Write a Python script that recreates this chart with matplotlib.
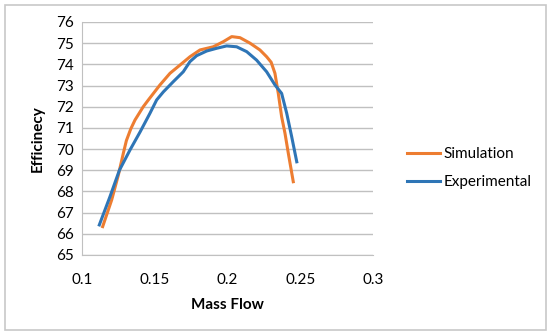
import matplotlib.pyplot as plt
from matplotlib.patches import Rectangle

plt.rcParams['font.family'] = ['Lato', 'DejaVu Sans']

sim_flow = [0.1142, 0.1204, 0.1250, 0.1284, 0.1305, 0.1335, 0.1364, 0.1421, 0.1456, 0.1536,
            0.1605, 0.1674, 0.1742, 0.1811, 0.1902, 0.1971, 0.2029, 0.2086, 0.2155,
            0.2223, 0.2269, 0.2300, 0.2326, 0.2349, 0.2372, 0.2395, 0.2418, 0.2452]
sim_eff = [66.34, 67.6, 68.78, 69.8, 70.4, 70.95, 71.37, 72.0, 72.32, 73.03,
           73.58, 73.97, 74.36, 74.68, 74.83, 75.07, 75.31, 75.26, 75.0,
           74.68, 74.36, 74.1, 73.58, 72.63, 71.53, 70.75, 69.8, 68.46]

exp_flow = [0.1119, 0.1192, 0.1257, 0.1330, 0.1400, 0.1467, 0.1513, 0.1559, 0.1627,
            0.1696, 0.1742, 0.1788, 0.1857, 0.1926, 0.1994, 0.2063, 0.2132, 0.2200,
            0.2269, 0.2326, 0.2372, 0.2407, 0.2441, 0.2476]
exp_eff = [66.42, 67.75, 69.0, 69.96, 70.82, 71.69, 72.32, 72.7, 73.18,
           73.65, 74.13, 74.41, 74.63, 74.76, 74.87, 74.83, 74.6, 74.2,
           73.65, 73.03, 72.63, 71.69, 70.59, 69.4]

x_ticks = [0.1, 0.15, 0.2, 0.25, 0.3]
x_labels = ['0.1', '0.15', '0.2', '0.25', '0.3']
y_ticks = list(range(65, 77))

fig = plt.figure(figsize=(5.5, 3.35), dpi=100)
fig.patches.append(Rectangle((5 / 550, 5 / 335), 541 / 550, 325 / 335,
                             transform=fig.transFigure, fill=False,
                             edgecolor='#c8c8c8', linewidth=1.2))
ax = fig.add_axes([82 / 550, 80 / 335, 291 / 550, 233 / 335])

ax.plot(sim_flow, sim_eff, color='#ED7D31', lw=2.2, label='Simulation')
ax.plot(exp_flow, exp_eff, color='#2E75B6', lw=2.2, label='Experimental')

ax.set_xlim(0.1, 0.3)
ax.set_ylim(65, 76)
ax.set_xticks(x_ticks)
ax.set_xticklabels(x_labels)
ax.set_yticks(y_ticks)
ax.grid(axis='y', color='#c0c0c0', lw=1)
ax.set_axisbelow(True)
for s in ['top', 'right']:
    ax.spines[s].set_visible(False)
for s in ['left', 'bottom']:
    ax.spines[s].set_color('#c0c0c0')
ax.tick_params(length=0, labelsize=11, colors='black', pad=6)
ax.tick_params(axis='x', pad=13)

ax.set_xlabel('Mass Flow', fontsize=11, fontweight='bold', labelpad=8)
ax.set_ylabel('Efficinecy', fontsize=11, fontweight='bold', labelpad=8)

fig.legend(loc='center left', bbox_to_anchor=(393 / 550, 1 - 168 / 335),
           frameon=False, fontsize=11, handlelength=2.2, handletextpad=0.2,
           labelspacing=0.9)

fig.savefig('out.png', dpi=100)
